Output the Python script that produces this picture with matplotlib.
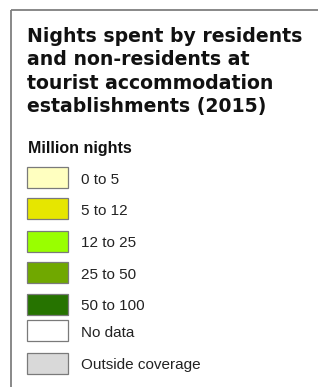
import matplotlib
matplotlib.use("Agg")
import matplotlib.pyplot as plt
from matplotlib.patches import Rectangle

title_lines = ["Nights spent by residents", "and non-residents at",
               "tourist accommodation", "establishments (2015)"]
subtitle = "Million nights"
labels = ["0 to 5", "5 to 12", "12 to 25", "25 to 50", "50 to 100", "No data", "Outside coverage"]
colors = ["#FFFFC0", "#E6E600", "#99FF00", "#70A800", "#267300", "#FFFFFF", "#D9D9D9"]
row_centers = [177.5, 208.5, 241, 272.5, 304, 330.5, 363]

W, H = 318, 387
fig = plt.figure(figsize=(W / 100, H / 100), dpi=100)
ax = fig.add_axes([0, 0, 1, 1])
ax.set_xlim(0, W)
ax.set_ylim(H, 0)
ax.axis("off")

# frame
ax.plot([11, 11], [H + 2, 9.5], color="#7f7f7f", lw=1.3, solid_capstyle="butt")
ax.plot([11, W + 2], [9.5, 9.5], color="#7f7f7f", lw=1.3, solid_capstyle="butt")

for i, line in enumerate(title_lines):
    ax.text(27, 41.7 + i * 23.5, line, fontsize=13.6, fontweight="bold",
            family="DejaVu Sans", va="baseline", ha="left", color="#111111")

ax.text(28, 153.3, subtitle, fontsize=11.5, fontweight="bold",
        family="Liberation Sans", va="baseline", ha="left", color="#111111")

for lab, col, yc in zip(labels, colors, row_centers):
    ax.add_patch(Rectangle((26.5, yc - 10.5), 41.5, 21, facecolor=col,
                           edgecolor="#7a7a7a", lw=0.9))
    ax.text(81, yc + 6.2, lab, fontsize=11, family="Liberation Sans",
            va="baseline", ha="left", color="#222222")

fig.savefig("out.png", dpi=100)
